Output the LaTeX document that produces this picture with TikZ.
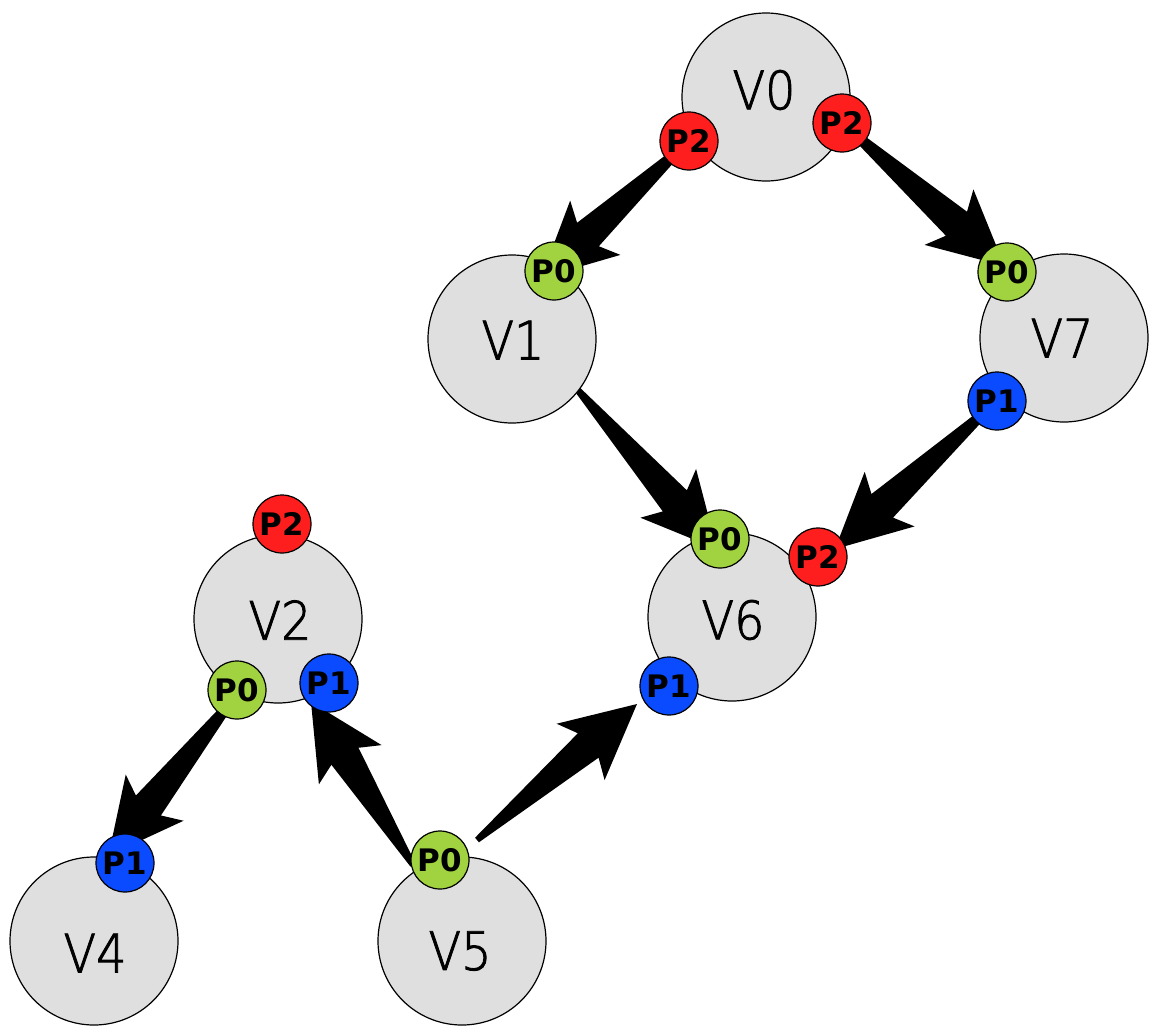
\documentclass[tikz,border=0pt]{standalone}
\usepackage{fontspec}
\usetikzlibrary{calc}
\newfontfamily\portfont{DejaVu Sans}[BoldFont={DejaVu Sans Bold}]
\newfontfamily\vfont{DejaVu Sans ExtraLight}[FakeBold=1.6, FakeStretch=0.9]
\definecolor{nodegray}{HTML}{DFDFDF}
\definecolor{portred}{HTML}{FF1E1E}
\definecolor{portgreen}{HTML}{A0D33F}
\definecolor{portblue}{HTML}{0A4BFF}
\tikzset{
  vert/.style={circle, draw=black, line width=1.2pt, fill=nodegray, minimum size=168pt, inner sep=0pt},
  vlabel/.style={font=\vfont\fontsize{53}{53}\selectfont, inner sep=0pt},
  port/.style={circle, draw=black, line width=1.2pt, minimum size=58pt, inner sep=0pt,
    font=\portfont\bfseries\fontsize{31}{31}\selectfont},
  pred/.style={port, fill=portred},
  pgreen/.style={port, fill=portgreen},
  pblue/.style={port, fill=portblue},
  arrowfill/.style={fill=black},
}
\newcommand\fatarrow[2]{%
  \fill[arrowfill] (#2)
    -- ($(#2)!74pt!(#1)!37pt!90:(#1)$)
    -- ($(#2)!64pt!(#1)!16pt!90:(#1)$)
    -- ($(#1)!3pt!-90:(#2)$)
    -- ($(#1)!3pt!90:(#2)$)
    -- ($(#2)!64pt!(#1)!16pt!-90:(#1)$)
    -- ($(#2)!74pt!(#1)!37pt!-90:(#1)$)
    -- cycle;}
\begin{document}
\begin{tikzpicture}[x=1pt, y=-1pt]
\useasboundingbox (0,0) rectangle (1160,1034);
% arrow end points
\coordinate (a1s) at (689,141);  \coordinate (a1t) at (541,278);
\coordinate (a2s) at (842,123);  \coordinate (a2t) at (1004.5,266);
\coordinate (a3s) at (576,388);  \coordinate (a3t) at (717,549);
\coordinate (a4s) at (997,401);  \coordinate (a4t) at (835,549);
\coordinate (a5s) at (239,692);  \coordinate (a5t) at (108.5,855.5);
\coordinate (a6s) at (413,865);  \coordinate (a6t) at (311,702);
\coordinate (a7s) at (477,840);  \coordinate (a7t) at (637,704);
% arrows
\fatarrow{a1s}{a1t}
\fatarrow{a2s}{a2t}
\fatarrow{a3s}{a3t}
\fatarrow{a4s}{a4t}
\fatarrow{a5s}{a5t}
\fatarrow{a6s}{a6t}
\fatarrow{a7s}{a7t}
% vertices
\node[vert] (V0) at (766,97) {};
\node[vert] (V1) at (512,339) {};
\node[vert] (V7) at (1064,338) {};
\node[vert] (V6) at (732,617) {};
\node[vert] (V2) at (278,619) {};
\node[vert] (V4) at (94,941) {};
\node[vert] (V5) at (462,941) {};
\node[vlabel] (V0l) at (764,90) {V0};
\node[vlabel] (V1l) at (513,340) {V1};
\node[vlabel] (V7l) at (1062,338) {V7};
\node[vlabel] (V6l) at (733,620) {V6};
\node[vlabel] (V2l) at (280,620) {V2};
\node[vlabel] (V4l) at (95,953) {V4};
\node[vlabel] (V5l) at (460,951) {V5};
% ports
\node[pred]   (V0p2a) at (689,141) {P2};
\node[pred]   (V0p2b) at (842,123) {P2};
\node[pgreen] (V1p0)  at (554,271) {P0};
\node[pgreen] (V7p0)  at (1007,272) {P0};
\node[pblue]  (V7p1)  at (997,401) {P1};
\node[pgreen] (V6p0)  at (720,539) {P0};
\node[pred]   (V6p2)  at (818,557) {P2};
\node[pblue]  (V6p1)  at (669,686) {P1};
\node[pred]   (V2p2)  at (282,524) {P2};
\node[pgreen] (V2p0)  at (237,690) {P0};
\node[pblue]  (V2p1)  at (329,683) {P1};
\node[pblue]  (V4p1)  at (125,863) {P1};
\node[pgreen] (V5p0)  at (440,860) {P0};
\end{tikzpicture}
\end{document}
